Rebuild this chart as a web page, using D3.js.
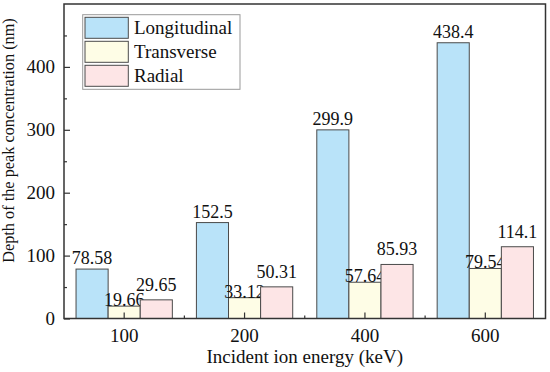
<!DOCTYPE html>
<html>
<head>
<meta charset="utf-8">
<script src="https://cdn.jsdelivr.net/npm/d3@7"></script>
<style>
  body { margin: 0; background: #fff; }
</style>
</head>
<body>
<script>
// data
var energies = ["100", "200", "400", "600"];
var seriesNames = ["Longitudinal", "Transverse", "Radial"];
var longitudinal = [78.58, 152.5, 299.9, 438.4];
var transverse = [19.66, 33.12, 57.64, 79.54];
var radial = [29.65, 50.31, 85.93, 114.1];
var labelText = {
  Longitudinal: ["78.58", "152.5", "299.9", "438.4"],
  Transverse: ["19.66", "33.12", "57.64", "79.54"],
  Radial: ["29.65", "50.31", "85.93", "114.1"]
};
var yTicks = [0, 100, 200, 300, 400];

var colors = { Longitudinal: "#b9e3f9", Transverse: "#fefde6", Radial: "#fde5e6" };
// how far each series' value label sits above its bar
var labelLift = { Longitudinal: 5, Transverse: 0, Radial: 9 };
var serif = "'Liberation Serif', 'Times New Roman', Times, serif";

var margin = { top: 4, right: 4.5, bottom: 53.5, left: 64 },
    width = 550 - margin.left - margin.right,
    height = 372 - margin.top - margin.bottom;

var svg = d3.select("body").append("svg")
    .attr("width", 550)
    .attr("height", 372)
    .style("font-family", serif)
  .append("g")
    .attr("transform", "translate(" + margin.left + "," + margin.top + ")");

var x = d3.scaleBand().domain(energies).range([0, width]).padding(0);
var xInner = d3.scaleBand().domain(seriesNames).range([x.bandwidth() * 0.1, x.bandwidth() * 0.9]);
var y = d3.scaleLinear().domain([0, 500]).range([height, 0]);

var values = { Longitudinal: longitudinal, Transverse: transverse, Radial: radial };

// bars
seriesNames.forEach(function(s) {
  var data = energies.map(function(e, i) { return { e: e, v: values[s][i], t: labelText[s][i] }; });
  svg.append("g").selectAll("rect")
    .data(data)
    .enter().append("rect")
      .attr("x", function(d) { return x(d.e) + xInner(s); })
      .attr("y", function(d) { return y(d.v); })
      .attr("width", xInner.bandwidth())
      .attr("height", function(d) { return height - y(d.v); })
      .attr("fill", colors[s])
      .attr("stroke", "#4a4a4a")
      .attr("stroke-width", 1);

  svg.append("g").selectAll("text")
    .data(data)
    .enter().append("text")
      .attr("x", function(d) { return x(d.e) + xInner(s) + xInner.bandwidth() / 2; })
      .attr("y", function(d) { return y(d.v) - labelLift[s]; })
      .attr("text-anchor", "middle")
      .style("font-family", serif)
      .style("font-size", "18px")
      .style("fill", "#111")
      .text(function(d) { return d.t; });
});

// frame
svg.append("rect")
    .attr("width", width)
    .attr("height", height)
    .attr("fill", "none")
    .attr("stroke", "#333")
    .attr("stroke-width", 1.5);

// Y axis, ticks pointing inwards
var yAxis = svg.append("g")
    .call(d3.axisLeft(y).tickValues(yTicks).tickSize(-6).tickPadding(9));
yAxis.attr("font-family", null);
yAxis.select(".domain").remove();
yAxis.selectAll("line").attr("stroke", "#333").attr("stroke-width", 1.2);
yAxis.selectAll("text").style("font-size", "19px").style("font-family", serif).style("fill", "#111");

var yMinor = svg.append("g")
    .call(d3.axisLeft(y).tickValues([50, 150, 250, 350, 450]).tickSize(-3).tickFormat(""));
yMinor.select(".domain").remove();
yMinor.selectAll("line").attr("stroke", "#333").attr("stroke-width", 1.2);

// X axis
var xAxis = svg.append("g")
    .attr("transform", "translate(0," + height + ")")
    .call(d3.axisBottom(x).tickSize(-6).tickPadding(10));
xAxis.attr("font-family", null);
xAxis.select(".domain").remove();
xAxis.selectAll("line").attr("stroke", "#333").attr("stroke-width", 1.2);
xAxis.selectAll("text").style("font-size", "19px").style("font-family", serif).style("fill", "#111");

// minor ticks between groups
svg.append("g").selectAll("line")
    .data(energies.slice(1))
    .enter().append("line")
      .attr("x1", function(d) { return x(d); })
      .attr("x2", function(d) { return x(d); })
      .attr("y1", height)
      .attr("y2", height - 3)
      .attr("stroke", "#333")
      .attr("stroke-width", 1.2);

// axis titles
svg.append("text")
    .attr("x", width / 2)
    .attr("y", height + 44)
    .attr("text-anchor", "middle")
    .style("font-family", serif)
    .style("font-size", "19px")
    .style("fill", "#111")
    .text("Incident ion energy (keV)");

svg.append("text")
    .attr("transform", "translate(" + (-50.5) + "," + 136.5 + ") rotate(-90)")
    .attr("text-anchor", "middle")
    .style("font-family", serif)
    .style("font-size", "16.3px")
    .style("fill", "#111")
    .text("Depth of the peak concentration (nm)");

// legend
var legend = svg.append("g").attr("transform", "translate(18.7,10.7)");
legend.append("rect")
    .attr("width", 157.3)
    .attr("height", 74.6)
    .attr("fill", "#fff")
    .attr("stroke", "#999")
    .attr("stroke-width", 1);

var items = legend.selectAll("g.item")
    .data(seriesNames)
    .enter().append("g")
      .attr("class", "item")
      .attr("transform", function(d, i) { return "translate(2.3," + (2.6 + i * 24) + ")"; });
items.append("rect")
    .attr("width", 43.3)
    .attr("height", 21)
    .attr("fill", function(d) { return colors[d]; })
    .attr("stroke", "#4a4a4a");
items.append("text")
    .attr("x", 49)
    .attr("y", 17)
    .style("font-family", serif)
    .style("font-size", "19px")
    .style("fill", "#111")
    .text(function(d) { return d; });
</script>
</body>
</html>
